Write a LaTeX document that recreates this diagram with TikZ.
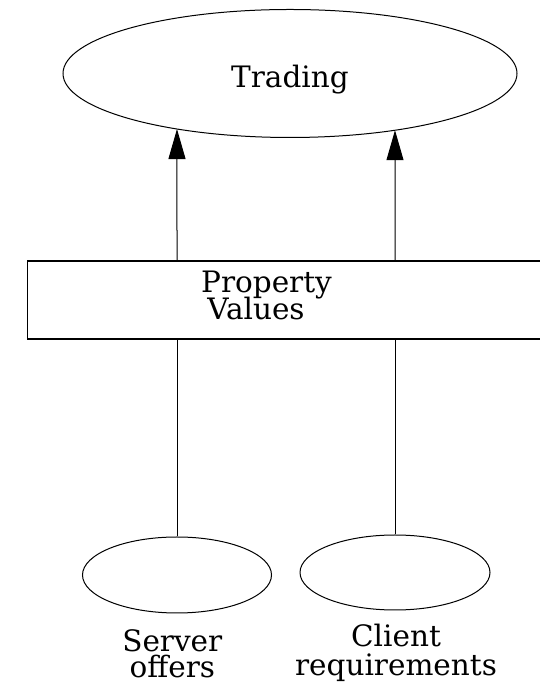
\documentclass[tikz,border=0pt]{standalone}
\usepackage{fontspec}
\setmainfont{DejaVu Serif}
\usetikzlibrary{arrows.meta,shapes.geometric,intersections}

\tikzset{
  oval/.style={draw, ellipse, line width=1pt, inner sep=0pt},
  bar/.style={draw, rectangle, line width=1.1pt, inner sep=0pt},
  label text/.style={font=\fontsize{29.5}{32}\selectfont, inner sep=0pt, anchor=base},
  caption/.style={inner sep=0pt, anchor=base, align=center},
  link/.style={line width=1pt},
  flow/.style={line width=1pt, -{Triangle[length=30pt,width=17pt]}},
}

\begin{document}
\begin{tikzpicture}[x=1pt,y=1pt]
  \useasboundingbox (0,0) rectangle (539,684);

  % trading service
  \node[oval, name path=tradingpath, minimum width=454pt, minimum height=128pt] (trading) at (290,610.5) {};
  \node[label text] (tradingtext) at (290,596) {Trading};

  % property values band (runs off the right edge)
  \node[bar, anchor=west, minimum width=560pt, minimum height=78pt] (pv) at (26.8,384) {};
  \node[label text] (pvone) at (266.5,391) {Property};
  \node[label text] (pvtwo) at (256,364) {Values};

  % sources; captions are placed by the baseline of their last line
  \node[oval, minimum width=189pt, minimum height=76pt] (server) at (177,109) {};
  \node[oval, minimum width=190pt, minimum height=75pt] (client) at (395,111.5) {};
  \node[caption, font=\fontsize{29.5}{26.3}\selectfont] (servertext) at (172.3,6) {Server\\offers};
  \node[caption, font=\fontsize{29.5}{29}\selectfont] (clienttext) at (396,8.3) {Client\\requirements};

  % links into the band
  \draw[link] (server.north) -- (server.north |- pv.south);
  \draw[link] (client.north) -- (client.north |- pv.south);

  % arrows from the band up to the lower rim of trading
  \path[name path=upleft] (server.north |- pv.north) -- (server.north |- trading.center);
  \path[name path=upright] (client.north |- pv.north) -- (client.north |- trading.center);
  \path[name intersections={of=upleft and tradingpath, by=tipleft}];
  \path[name intersections={of=upright and tradingpath, by=tipright}];
  \draw[flow] (server.north |- pv.north) -- (tipleft);
  \draw[flow] (client.north |- pv.north) -- (tipright);
\end{tikzpicture}
\end{document}
